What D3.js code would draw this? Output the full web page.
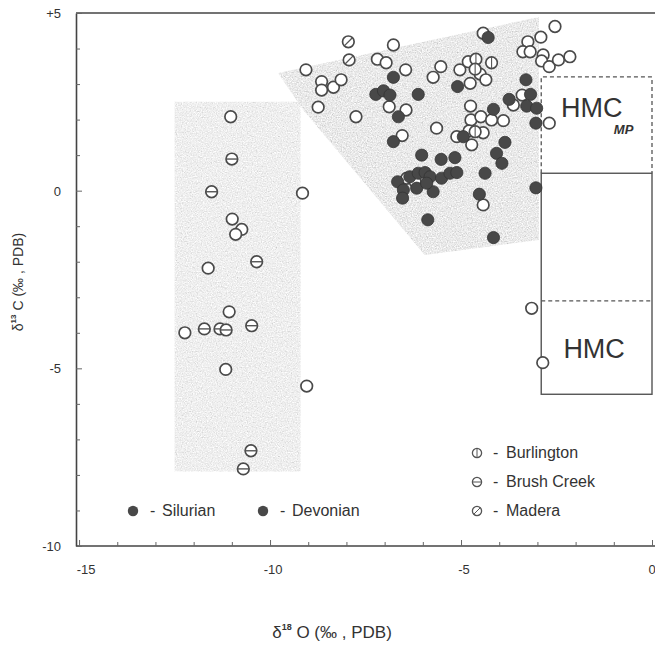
<!DOCTYPE html>
<html><head><meta charset="utf-8">
<script src="https://cdn.jsdelivr.net/npm/d3@7/dist/d3.min.js"></script>
<style>body{margin:0;background:#fff}svg{display:block}text{font-family:"Liberation Sans",Arial,sans-serif;fill:#333}</style>
</head><body>
<script>
// ---- data (delta18O, delta13C) ----
const xTicks = [-15, -10, -5, 0];
const yTicks = [5, 0, -5, -10];
const xTickLabels = ["-15", "-10", "-5", "0"];
const yTickLabels = ["+5", "0", "-5", "-10"];

const silurian = [
  [-4.29,4.31],[-6.77,3.19],[-7.23,2.71],[-7.03,2.81],[-6.86,2.69],[-6.12,2.71],[-6.64,2.08],[-6.77,1.38],
  [-5.09,2.93],[-4.15,2.29],[-3.74,2.57],[-3.30,3.12],[-3.18,2.71],[-3.28,2.38],[-3.02,2.32],[-3.04,1.90],
  [-4.94,1.52],[-3.85,1.36],[-4.07,1.05],[-3.93,0.77],[-3.04,0.08]
];
const devonian = [
  [-6.03,1.00],[-5.52,0.88],[-5.16,0.93],[-4.37,0.49],[-6.66,0.25],[-6.51,0.02],[-6.53,-0.21],[-6.34,0.39],
  [-6.12,0.49],[-5.94,0.51],[-5.81,0.39],[-5.73,-0.03],[-5.51,0.35],[-5.29,0.49],[-5.11,0.51],[-6.16,0.07],
  [-5.90,0.21],[-4.52,-0.10],[-5.87,-0.82],[-4.15,-1.32]
];
const burlington = [[-4.61,3.70],[-4.63,3.42],[-4.20,3.60],[-4.63,1.66]];
const brushCreek = [
  [-11.00,0.89],[-11.53,-0.03],[-10.35,-2.00],[-11.72,-3.89],[-11.31,-3.89],[-11.15,-3.92],[-10.48,-3.80],
  [-10.50,-7.32],[-10.70,-7.83]
];
const madera = [[-7.95,4.19],[-7.93,3.68]];
const openOther = [
  [-11.03,2.08],[-9.15,-0.07],[-10.99,-0.80],[-10.74,-1.09],[-10.90,-1.23],[-11.62,-2.18],[-11.07,-3.41],
  [-12.23,-4.00],[-11.16,-5.03],[-9.04,-5.50],
  [-9.06,3.40],[-8.65,3.07],[-8.65,2.83],[-8.34,2.91],[-8.14,3.12],[-8.74,2.35],[-7.75,2.08],[-6.77,4.10],
  [-7.19,3.70],[-6.96,3.60],[-6.45,3.40],[-6.88,2.36],[-6.44,2.27],[-6.54,1.55],[-5.64,1.76],[-5.73,3.19],
  [-5.53,3.49],[-5.03,3.40],[-4.81,3.63],[-4.50,3.28],[-4.76,3.02],[-4.35,3.12],[-4.42,4.43],[-4.75,2.38],
  [-4.74,1.99],[-4.48,2.08],[-4.20,1.99],[-3.89,1.97],[-5.11,1.52],[-4.79,1.68],[-4.42,1.63],[-4.72,1.29],
  [-4.42,-0.40],[-3.25,4.19],[-2.91,4.32],[-2.54,4.62],[-3.38,3.91],[-3.19,3.91],[-2.85,3.82],[-2.89,3.65],
  [-2.69,3.49],[-2.45,3.68],[-2.15,3.77],[-3.40,2.69],[-3.63,2.41],[-2.69,1.90],[-6.42,0.35],[-6.20,0.25],
  [-3.15,-3.31],[-2.86,-4.84]
];
// shaded fields
const brushField = [[-12.5,2.5],[-9.2,2.5],[-9.2,-7.9],[-12.5,-7.9]];
const upperField = [[-9.79,3.31],[-2.96,4.89],[-2.96,-1.39],[-5.95,-1.81],[-9.13,2.27]];
// HMC boxes
const hmcMP = {x0:-2.9, x1:0, y0:-3.1, y1:3.2};
const hmc = {x0:-2.9, x1:0, y0:-5.73, y1:0.49};

const W = 655, H = 647;
const svg = d3.select("body").append("svg").attr("width", W).attr("height", H);
const xs = d3.scaleLinear().domain([-15.08, 0]).range([76, 652]);
const ys = d3.scaleLinear().domain([-10, 5]).range([546, 13]);

const defs = svg.append("defs");
const f = defs.append("filter").attr("id","spk").attr("x",0).attr("y",0).attr("width",1).attr("height",1);
f.append("feTurbulence").attr("type","fractalNoise").attr("baseFrequency",0.8).attr("numOctaves",2).attr("seed",4).attr("result","n");
f.append("feColorMatrix").attr("in","n").attr("type","matrix")
 .attr("values","0.33 0.33 0.33 0 0 0.33 0.33 0.33 0 0 0.33 0.33 0.33 0 0 0 0 0 0 1").attr("result","g");
const ct = f.append("feComponentTransfer").attr("in","g").attr("result","c");
["feFuncR","feFuncG","feFuncB"].forEach(k=>ct.append(k).attr("type","linear").attr("slope",1.1).attr("intercept",0.27));
f.append("feComposite").attr("in","c").attr("in2","SourceGraphic").attr("operator","in");

const line = d3.line().x(d=>xs(d[0])).y(d=>ys(d[1]));
svg.append("path").attr("d", line(brushField)+"Z").attr("fill","#ddd").attr("opacity",0.72).attr("filter","url(#spk)");
svg.append("path").attr("d", line(upperField)+"Z").attr("fill","#ccc").attr("opacity",0.95).attr("filter","url(#spk)");

// frame
const ax = svg.append("g").attr("stroke","#444").attr("stroke-width",1.6).attr("fill","none");
ax.append("line").attr("x1",xs.range()[0]).attr("x2",W+5).attr("y1",ys(5)).attr("y2",ys(5));
// axes
const gx = svg.append("g").attr("transform",`translate(0,${ys(-10)})`)
  .call(d3.axisBottom(xs).tickValues(d3.range(-15,1)).tickSize(-4).tickSizeOuter(0).tickFormat(()=>""));
const gy = svg.append("g").attr("transform",`translate(${xs(-15.08)},0)`)
  .call(d3.axisLeft(ys).tickValues(d3.range(-10,6)).tickSize(-4).tickSizeOuter(0).tickFormat(()=>""));
[gx,gy].forEach(g=>{g.select(".domain").attr("stroke","#444").attr("stroke-width",1.6);
  g.selectAll(".tick line").attr("stroke","#666").attr("stroke-width",1);});
gx.select(".domain").attr("d",`M${xs.range()[0]},0H${W+5}`);
gx.selectAll(".tick line").filter(d=>d%5===0).attr("y2",-6);
gy.selectAll(".tick line").filter(d=>d%5===0).attr("x2",6);

svg.selectAll(".xl").data(xTicks).join("text").attr("x",(d,i)=>xs(d)+(i===0?7:i===3?0:3)).attr("y",574)
  .attr("text-anchor","middle").attr("font-size",13).text((d,i)=>xTickLabels[i]);
svg.selectAll(".yl").data(yTicks).join("text").attr("x",61).attr("y",d=>ys(d)+5)
  .attr("text-anchor","end").attr("font-size",13).text((d,i)=>yTickLabels[i]);

// axis titles
const xt = svg.append("text").attr("x",332).attr("y",638).attr("text-anchor","middle").attr("font-size",17);
xt.append("tspan").text("δ");
xt.append("tspan").attr("font-size",9).attr("dy",-8).attr("font-weight","bold").text("18");
xt.append("tspan").attr("dy",8).text(" O (‰ ,  PDB)");
const yt = svg.append("text").attr("transform","translate(23,282) rotate(-90)").attr("text-anchor","middle").attr("font-size",14);
yt.append("tspan").text("δ");
yt.append("tspan").attr("font-size",8).attr("dy",-7).attr("font-weight","bold").text("13");
yt.append("tspan").attr("dy",7).text(" C (‰ ,  PDB)");

// HMC boxes
const bx = svg.append("g").attr("fill","none").attr("stroke","#555");
bx.append("path").attr("stroke-dasharray","4,3").attr("stroke-width",1.3)
  .attr("d",`M${xs(hmcMP.x0)},${ys(hmc.y1)}V${ys(hmcMP.y1)}H${xs(hmcMP.x1)}V${ys(hmc.y1)}`);
bx.append("line").attr("stroke-dasharray","4,3").attr("stroke-width",1.3)
  .attr("x1",xs(hmcMP.x0)).attr("x2",xs(hmcMP.x1)).attr("y1",ys(hmcMP.y0)).attr("y2",ys(hmcMP.y0));
bx.append("rect").attr("stroke-width",1.4).attr("x",xs(hmc.x0)).attr("y",ys(hmc.y1))
  .attr("width",xs(hmc.x1)-xs(hmc.x0)).attr("height",ys(hmc.y0)-ys(hmc.y1));
svg.append("text").attr("x",xs(-2.38)).attr("y",ys(2.07)).attr("font-size",27).attr("fill","#333").text("HMC");
svg.append("text").attr("x",xs(-1.0)).attr("y",ys(1.6)).attr("font-size",13).attr("font-style","italic").attr("font-weight","bold").attr("fill","#444").text("MP");
svg.append("text").attr("x",xs(-2.32)).attr("y",ys(-4.7)).attr("font-size",27).attr("fill","#333").text("HMC");

// markers
const R = 5.8;
function openMarks(data, kind, r){
  const g = svg.append("g");
  const m = g.selectAll("g").data(data).join("g").attr("transform",d=>`translate(${xs(d[0])},${ys(d[1])})`);
  m.append("circle").attr("r",r).attr("fill","#fff").attr("stroke","#4a4a4a").attr("stroke-width",1.7);
  if(kind==="v") m.append("line").attr("y1",-r).attr("y2",r).attr("stroke","#555").attr("stroke-width",1.1);
  if(kind==="h") m.append("line").attr("x1",-r).attr("x2",r).attr("stroke","#555").attr("stroke-width",1.4);
  if(kind==="d") m.append("line").attr("x1",-r*0.7).attr("y1",r*0.7).attr("x2",r*0.7).attr("y2",-r*0.7).attr("stroke","#555").attr("stroke-width",1.3);
}
function filled(data){
  svg.append("g").selectAll("circle").data(data).join("circle")
   .attr("cx",d=>xs(d[0])).attr("cy",d=>ys(d[1])).attr("r",R+0.3).attr("fill","#484848").attr("stroke","#333").attr("stroke-width",0.8);
}
openMarks(openOther,"",R);
openMarks(brushCreek,"h",R);
openMarks(burlington,"v",R);
openMarks(madera,"d",R);
filled(silurian);
filled(devonian);

// legends
const leg1 = [{k:"v",t:"Burlington",y:453},{k:"h",t:"Brush  Creek",y:482},{k:"d",t:"Madera",y:511}];
leg1.forEach(l=>{
  const g = svg.append("g").attr("transform",`translate(477,${l.y})`);
  g.append("circle").attr("r",4.6).attr("fill","#fff").attr("stroke","#555").attr("stroke-width",1.3);
  if(l.k==="v") g.append("line").attr("y1",-4.6).attr("y2",4.6).attr("stroke","#555");
  if(l.k==="h") g.append("line").attr("x1",-4.6).attr("x2",4.6).attr("stroke","#555");
  if(l.k==="d") g.append("line").attr("x1",-3.3).attr("y1",3.3).attr("x2",3.3).attr("y2",-3.3).attr("stroke","#555");
  svg.append("text").attr("x",493).attr("y",l.y+5).attr("font-size",16).attr("fill","#444").text("-");
  svg.append("text").attr("x",506).attr("y",l.y+5).attr("font-size",16).attr("fill","#444").text(l.t);
});
const leg2 = [{x:133,t:"Silurian"},{x:263,t:"Devonian"}];
leg2.forEach(l=>{
  svg.append("circle").attr("cx",l.x).attr("cy",511).attr("r",5.2).attr("fill","#484848");
  svg.append("text").attr("x",l.x+17).attr("y",516).attr("font-size",16).attr("fill","#444").text("-");
  svg.append("text").attr("x",l.x+29).attr("y",516).attr("font-size",16).attr("fill","#444").text(l.t);
});
</script>
</body></html>
